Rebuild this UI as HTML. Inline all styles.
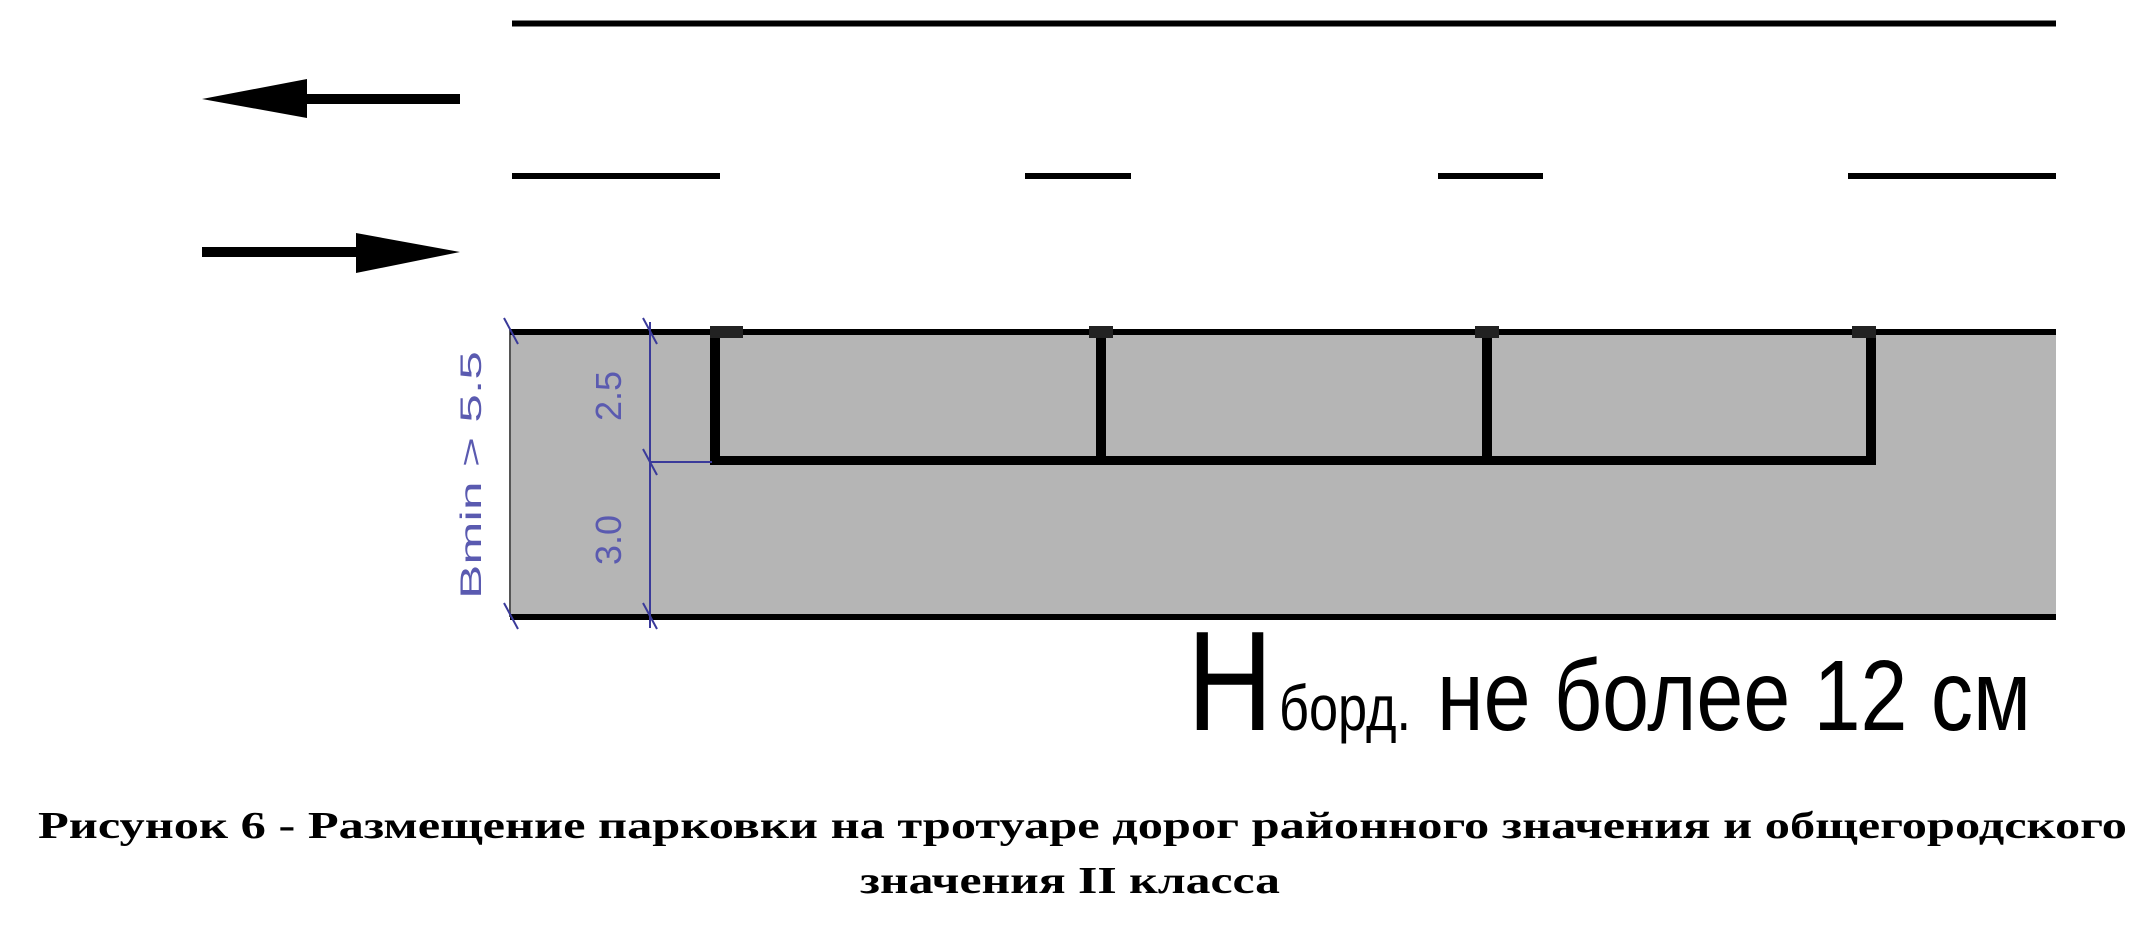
<!DOCTYPE html>
<html><head><meta charset="utf-8"><style>
html,body{margin:0;padding:0;background:#fff;}
svg{display:block;}
</style></head><body>
<svg width="2141" height="925" viewBox="0 0 2141 925" xmlns="http://www.w3.org/2000/svg">
<line x1="512" y1="23.5" x2="2056" y2="23.5" stroke="#000" stroke-width="6"/>
<g stroke="#000" stroke-width="6">
<line x1="512" y1="176" x2="720" y2="176"/>
<line x1="1025" y1="176" x2="1131" y2="176"/>
<line x1="1438" y1="176" x2="1543" y2="176"/>
<line x1="1848" y1="176" x2="2056" y2="176"/>
</g>
<rect x="300" y="94" width="160" height="10" fill="#000"/>
<polygon points="202,99 307,79 307,118" fill="#000"/>
<rect x="202" y="247" width="160" height="10" fill="#000"/>
<polygon points="460,252 356,233 356,273" fill="#000"/>
<rect x="510" y="329" width="1546" height="288" fill="#b5b5b5"/>
<line x1="510" y1="329" x2="510" y2="617" stroke="#555" stroke-width="2"/>
<line x1="510" y1="332" x2="2056" y2="332" stroke="#000" stroke-width="6"/>
<line x1="510" y1="617" x2="2056" y2="617" stroke="#000" stroke-width="6"/>
<g fill="#000">
<rect x="710" y="327" width="10" height="138"/>
<rect x="1096" y="327" width="10" height="138"/>
<rect x="1482" y="327" width="10" height="138"/>
<rect x="1866" y="327" width="10" height="138"/>
<rect x="710" y="456" width="1166" height="9"/>
<rect x="710" y="326" width="33" height="12" fill="#222"/>
<rect x="1089" y="326" width="24" height="12" fill="#222"/>
<rect x="1475" y="326" width="24" height="12" fill="#222"/>
<rect x="1852" y="326" width="24" height="12" fill="#222"/>
</g>
<g stroke="#3a3a9a" stroke-width="2" fill="none">
<line x1="650" y1="322" x2="650" y2="628"/>
<line x1="650" y1="462" x2="712" y2="462"/>
<line x1="504" y1="318" x2="518" y2="344"/>
<line x1="504" y1="603" x2="518" y2="629"/>
<line x1="643" y1="318" x2="657" y2="344"/>
<line x1="643" y1="449" x2="657" y2="475"/>
<line x1="643" y1="603" x2="657" y2="629"/>
</g>
<g fill="#5a5ab0" font-family="Liberation Sans, sans-serif" font-size="30">
<text transform="translate(481,475) rotate(-90)" text-anchor="middle" textLength="248" lengthAdjust="spacingAndGlyphs">Bmin &gt; 5.5</text>
<text transform="translate(621,396) rotate(-90)" text-anchor="middle" font-size="36">2.5</text>
<text transform="translate(621,540) rotate(-90)" text-anchor="middle" font-size="36">3.0</text>
</g>
<g font-family="Liberation Sans, sans-serif" fill="#000">
<text x="1187" y="730" font-size="142" textLength="86" lengthAdjust="spacingAndGlyphs">Н</text>
<text x="1279" y="730" font-size="64" textLength="132" lengthAdjust="spacingAndGlyphs">борд.</text>
<text x="1437" y="730" font-size="100" textLength="594" lengthAdjust="spacingAndGlyphs">не более 12 см</text>
</g>
<g font-family="Liberation Serif, serif" font-weight="bold" font-size="38" fill="#000">
<text x="38" y="838" textLength="2089" lengthAdjust="spacingAndGlyphs">Рисунок 6 -  Размещение парковки на тротуаре дорог районного значения и общегородского</text>
<text x="1070" y="893" text-anchor="middle" textLength="420" lengthAdjust="spacingAndGlyphs">значения II класса</text>
</g>
</svg>
</body></html>
